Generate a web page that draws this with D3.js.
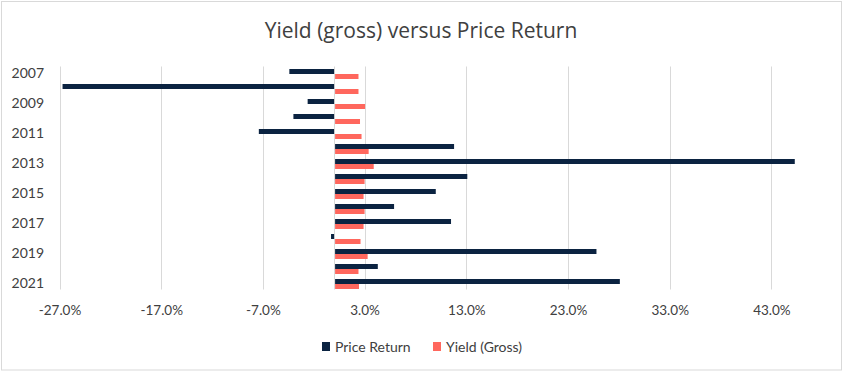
<!DOCTYPE html>
<html>
<head>
<meta charset="utf-8">
<script src="https://cdn.jsdelivr.net/npm/d3@7"></script>
<style>
  html, body { margin: 0; padding: 0; background: #fff; }
  svg { display: block; }
  text { font-family: Lato, "Open Sans", sans-serif; fill: #595959; }
</style>
</head>
<body>
<svg id="chart" width="847" height="375"></svg>
<script>
const years = ["2007","2008","2009","2010","2011","2012","2013","2014","2015","2016","2017","2018","2019","2020","2021"];
const priceReturn = [-4.4, -26.7, -2.6, -4.0, -7.4, 11.7, 45.2, 13.0, 9.9, 5.8, 11.4, -0.3, 25.7, 4.2, 28.0];
const yieldGross = [2.3, 2.3, 2.95, 2.45, 2.6, 3.3, 3.8, 2.9, 2.8, 2.9, 2.8, 2.5, 3.2, 2.3, 2.35];
const xTicks = [-27, -17, -7, 3, 13, 23, 33, 43];
const yearLabels = ["2007","2009","2011","2013","2015","2017","2019","2021"];
const seriesNames = ["Price Return", "Yield (Gross)"];
const seriesColors = ["#0b2341", "#ff675d"];
const title = "Yield (gross) versus Price Return";

const svg = d3.select("#chart");

// chart border
svg.append("rect").attr("x", 1.5).attr("y", 1.5).attr("width", 840).attr("height", 368.5)
  .attr("fill", "#fff").attr("stroke", "#d9d9d9").attr("stroke-width", 1);

const plotTop = 66.5, plotBottom = 291.5;
const x = d3.scaleLinear().domain([-27, 48]).range([59.5, 822.25]);
const y = d3.scaleBand().domain(years).range([plotTop, plotBottom]).paddingInner(1/3).paddingOuter(1/6);
const ySub = d3.scaleBand().domain(seriesNames).range([0, y.bandwidth()]);

// title
svg.append("text").attr("x", 421).attr("y", 38).attr("text-anchor", "middle")
  .style("font-family", "'Open Sans', sans-serif")
  .style("font-size", "21px").style("fill", "#404040").text(title);

// gridlines
svg.append("g").selectAll("line").data(xTicks).join("line")
  .attr("x1", d => Math.round(x(d)) + 0.5).attr("x2", d => Math.round(x(d)) + 0.5)
  .attr("y1", plotTop).attr("y2", plotBottom - 2)
  .attr("stroke", "#d9d9d9").attr("stroke-width", 1);

// vertical axis line at zero
svg.append("line")
  .attr("x1", Math.round(x(0)) + 0.5).attr("x2", Math.round(x(0)) + 0.5)
  .attr("y1", plotTop).attr("y2", plotBottom - 2)
  .attr("stroke", "#d9d9d9").attr("stroke-width", 1);

// bars
const rows = years.map((yr, i) => ({ year: yr, values: [priceReturn[i], yieldGross[i]] }));
const groups = svg.append("g").selectAll("g").data(rows).join("g")
  .attr("transform", d => `translate(0,${y(d.year)})`);
groups.selectAll("rect").data(d => d.values.map((v, j) => ({ v, s: seriesNames[j], c: seriesColors[j] })))
  .join("rect")
  .attr("x", d => x(Math.min(0, d.v)) + (d.v >= 0 ? 1 : 0))
  .attr("width", d => Math.abs(x(d.v) - x(0)))
  .attr("y", d => ySub(d.s))
  .attr("height", ySub.bandwidth())
  .attr("fill", d => d.c);

// y axis labels
const yAxis = d3.axisLeft(y).tickValues(yearLabels).tickSize(0).tickPadding(0);
const gy = svg.append("g").attr("transform", "translate(44,0)").call(yAxis);
gy.select(".domain").remove();
gy.selectAll("text").style("font-size", "14px").style("fill", "#404040")
  .style("font-family", "Lato, sans-serif");

// x axis labels
const xAxis = d3.axisBottom(x).tickValues(xTicks).tickSize(0).tickPadding(0)
  .tickFormat(d => d.toFixed(1) + "%");
const gx = svg.append("g").attr("transform", "translate(0,305)").call(xAxis);
gx.select(".domain").remove();
gx.selectAll("text").style("font-size", "13.5px").style("fill", "#404040")
  .style("font-family", "Lato, sans-serif");

// legend
const legendItems = [
  { name: seriesNames[0], color: seriesColors[0], x: 322 },
  { name: seriesNames[1], color: seriesColors[1], x: 433 }
];
const lg = svg.append("g");
legendItems.forEach(it => {
  lg.append("rect").attr("x", it.x).attr("y", 342).attr("width", 8).attr("height", 9).attr("fill", it.color);
  lg.append("text").attr("x", it.x + 13).attr("y", 352).style("font-size", "14px")
    .style("fill", "#404040").text(it.name);
});
</script>
</body>
</html>
